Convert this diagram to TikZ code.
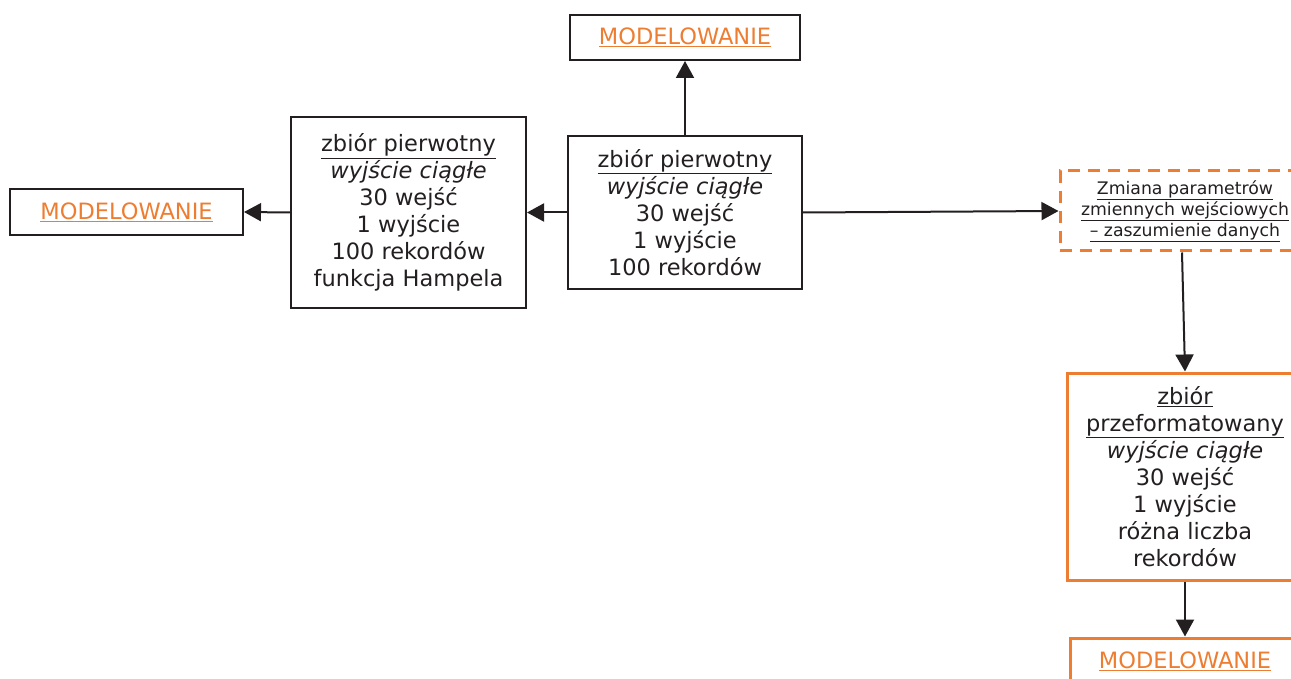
\documentclass[tikz,border=0pt]{standalone}
\usepackage{fontspec}
\setmainfont{DejaVu Sans}
\usetikzlibrary{arrows.meta}
\definecolor{org}{RGB}{237,125,49}
\definecolor{ink}{RGB}{35,31,32}
\begin{document}
\begin{tikzpicture}[x=1pt,y=-1pt,
  box/.style={draw=ink,line width=2pt,align=center,inner sep=0pt,text=ink,font=\fontsize{22.5}{27}\selectfont},
  modbox/.style={box,text=org},
  obox/.style={box,draw=org,line width=3pt},
  dbox/.style={draw=org,line width=3pt,dash pattern=on 12pt off 8pt,align=center,inner sep=0pt,text=ink,font=\fontsize{17.3}{21}\selectfont},
  conn/.style={draw=ink,line width=2pt,-{Triangle[width=18pt,length=17pt]}}
]
\useasboundingbox (0,0) rectangle (1291,679);
\clip (0,0) rectangle (1291,679);
\node[modbox,minimum width=230pt,minimum height=45pt] (mtop) at (685,37.5) {\underline{MODELOWANIE}};
\node[box,minimum width=234pt,minimum height=153pt] (c) at (685,212.5) {\underline{zbiór pierwotny}\\\textit{wyjście ciągłe}\\30 wejść\\1 wyjście\\100 rekordów};
\node[box,minimum width=235pt,minimum height=191pt] (l) at (408.5,212.5) {\underline{zbiór pierwotny}\\\textit{wyjście ciągłe}\\30 wejść\\1 wyjście\\100 rekordów\\funkcja Hampela};
\node[modbox,minimum width=233pt,minimum height=46pt] (mleft) at (126.5,212) {\underline{MODELOWANIE}};
\node[dbox,minimum width=250pt,minimum height=80pt] (d) at (1185,211) {\underline{Zmiana parametrów}\\\underline{zmiennych wejściowych}\\\underline{– zaszumienie danych}};
\node[obox,minimum width=236pt,minimum height=207pt] (p) at (1185,476.5) {\underline{zbiór}\\\underline{przeformatowany}\\\textit{wyjście ciągłe}\\30 wejść\\1 wyjście\\różna liczba\\rekordów};
\node[obox,text=org,minimum width=230pt,minimum height=46pt] (mbot) at (1185,661) {\underline{MODELOWANIE}};
\draw[conn] (c.north) -- (mtop.south);
\draw[conn] (c.west) -- (l.east);
\draw[conn] (l.west) -- (mleft.east);
\draw[conn] (c.east) -- (d.west);
\draw[conn] ([xshift=-3pt]d.south) -- (p.north);
\draw[conn] (p.south) -- (mbot.north);
\end{tikzpicture}
\end{document}
